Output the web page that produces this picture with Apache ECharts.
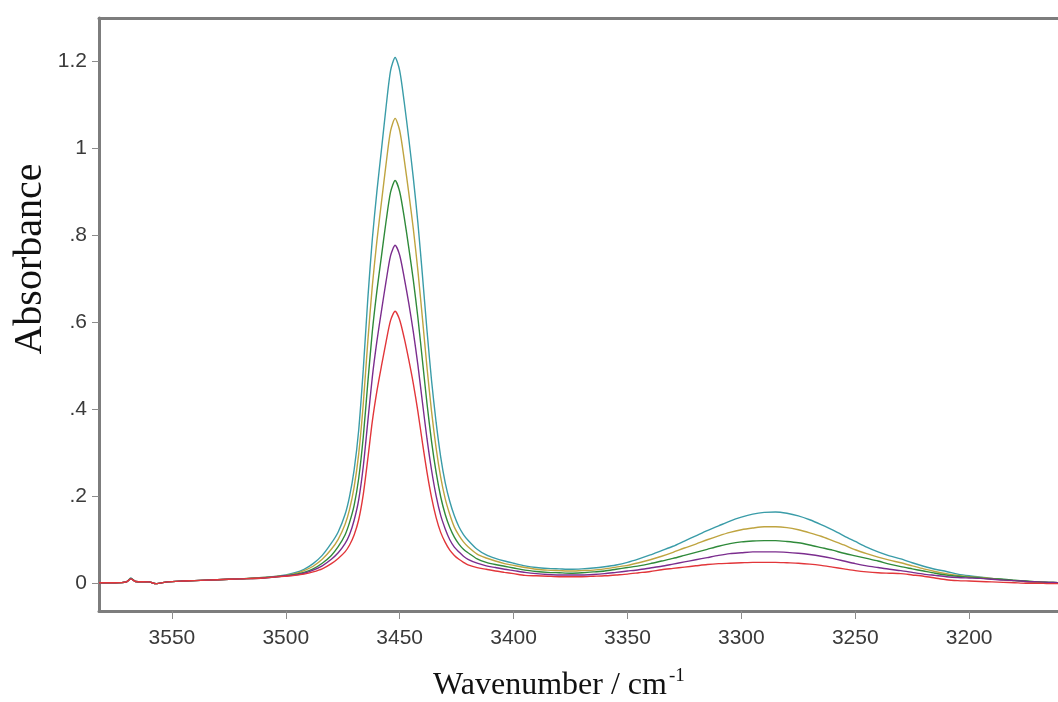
<!DOCTYPE html>
<html><head><meta charset="utf-8">
<script src="https://cdn.jsdelivr.net/npm/echarts@6/dist/echarts.min.js"></script>
<style>html,body{margin:0;padding:0;background:#fff}#c{width:1058px;height:702px}</style>
</head><body><div id="c"></div>
<script>
const wavenumbers = [
  3582, 3575, 3570, 3568, 3566, 3560, 3557, 3552, 3545, 3540,
  3530, 3520, 3510, 3500, 3496, 3492, 3488, 3484, 3480, 3477,
  3474, 3472, 3470, 3468, 3466, 3464, 3462, 3460, 3458, 3456,
  3454, 3452, 3450, 3448, 3446, 3444, 3442, 3440, 3438, 3436,
  3434, 3432, 3430, 3428, 3426, 3424, 3422, 3420, 3416, 3412,
  3408, 3404, 3400, 3395, 3390, 3385, 3380, 3375, 3370, 3365,
  3360, 3355, 3350, 3345, 3340, 3335, 3330, 3325, 3320, 3315,
  3310, 3305, 3300, 3295, 3290, 3285, 3280, 3275, 3270, 3265,
  3260, 3255, 3250, 3245, 3240, 3235, 3230, 3225, 3220, 3215,
  3210, 3205, 3200, 3195, 3190, 3185, 3180, 3175, 3170, 3165,
  3161
];
const tealValues = [
  0.000, 0.000, 0.002, 0.011, 0.003, 0.002, -0.002, 0.002, 0.004, 0.005,
  0.007, 0.009, 0.012, 0.018, 0.023, 0.031, 0.044, 0.063, 0.091, 0.117,
  0.157, 0.199, 0.260, 0.351, 0.490, 0.653, 0.792, 0.901, 0.997, 1.094,
  1.179, 1.209, 1.179, 1.106, 1.022, 0.931, 0.828, 0.707, 0.580, 0.465,
  0.369, 0.290, 0.230, 0.187, 0.154, 0.129, 0.111, 0.098, 0.077, 0.064,
  0.056, 0.050, 0.045, 0.039, 0.035, 0.033, 0.032, 0.031, 0.032, 0.034,
  0.037, 0.041, 0.047, 0.055, 0.064, 0.074, 0.084, 0.096, 0.108, 0.120,
  0.131, 0.142, 0.151, 0.158, 0.162, 0.163, 0.160, 0.154, 0.145, 0.134,
  0.122, 0.108, 0.095, 0.082, 0.071, 0.062, 0.055, 0.046, 0.038, 0.031,
  0.026, 0.020, 0.016, 0.013, 0.010, 0.007, 0.005, 0.003, 0.002, 0.001,
  0.000
];
const goldValues = [
  0.000, 0.000, 0.002, 0.010, 0.003, 0.002, -0.002, 0.002, 0.004, 0.005,
  0.007, 0.009, 0.012, 0.017, 0.021, 0.028, 0.038, 0.054, 0.077, 0.100,
  0.134, 0.169, 0.220, 0.296, 0.411, 0.555, 0.684, 0.787, 0.876, 0.963,
  1.040, 1.069, 1.041, 0.974, 0.897, 0.814, 0.718, 0.608, 0.495, 0.394,
  0.310, 0.243, 0.193, 0.157, 0.128, 0.109, 0.094, 0.083, 0.066, 0.057,
  0.050, 0.044, 0.040, 0.035, 0.031, 0.029, 0.028, 0.027, 0.028, 0.029,
  0.032, 0.036, 0.040, 0.046, 0.053, 0.061, 0.070, 0.080, 0.089, 0.099,
  0.108, 0.116, 0.122, 0.126, 0.129, 0.129, 0.127, 0.122, 0.115, 0.107,
  0.097, 0.087, 0.076, 0.067, 0.059, 0.052, 0.046, 0.039, 0.032, 0.026,
  0.021, 0.017, 0.014, 0.012, 0.010, 0.007, 0.005, 0.003, 0.002, 0.001,
  0.000
];
const greenValues = [
  0.000, 0.000, 0.002, 0.010, 0.003, 0.002, -0.002, 0.002, 0.004, 0.005,
  0.007, 0.009, 0.011, 0.016, 0.019, 0.024, 0.032, 0.045, 0.063, 0.083,
  0.110, 0.139, 0.178, 0.240, 0.335, 0.460, 0.579, 0.672, 0.752, 0.831,
  0.899, 0.926, 0.900, 0.841, 0.771, 0.696, 0.610, 0.511, 0.412, 0.325,
  0.254, 0.198, 0.157, 0.127, 0.105, 0.089, 0.077, 0.069, 0.055, 0.047,
  0.042, 0.038, 0.034, 0.029, 0.026, 0.024, 0.023, 0.022, 0.023, 0.025,
  0.027, 0.031, 0.035, 0.039, 0.044, 0.050, 0.056, 0.063, 0.070, 0.077,
  0.084, 0.090, 0.094, 0.096, 0.097, 0.097, 0.095, 0.092, 0.087, 0.081,
  0.075, 0.068, 0.062, 0.056, 0.050, 0.043, 0.037, 0.032, 0.027, 0.022,
  0.018, 0.015, 0.013, 0.011, 0.009, 0.008, 0.006, 0.004, 0.002, 0.001,
  0.000
];
const purpleValues = [
  0.000, 0.000, 0.002, 0.009, 0.003, 0.002, -0.002, 0.002, 0.004, 0.005,
  0.007, 0.009, 0.011, 0.016, 0.018, 0.022, 0.029, 0.039, 0.054, 0.069,
  0.090, 0.111, 0.144, 0.191, 0.267, 0.371, 0.474, 0.556, 0.626, 0.693,
  0.753, 0.777, 0.754, 0.702, 0.643, 0.577, 0.501, 0.415, 0.331, 0.259,
  0.200, 0.155, 0.124, 0.099, 0.082, 0.071, 0.061, 0.054, 0.045, 0.039,
  0.035, 0.031, 0.028, 0.024, 0.021, 0.019, 0.018, 0.018, 0.018, 0.019,
  0.021, 0.024, 0.027, 0.030, 0.034, 0.038, 0.043, 0.048, 0.053, 0.058,
  0.063, 0.067, 0.069, 0.071, 0.071, 0.071, 0.070, 0.068, 0.065, 0.061,
  0.056, 0.050, 0.044, 0.039, 0.035, 0.031, 0.028, 0.024, 0.020, 0.017,
  0.014, 0.012, 0.011, 0.010, 0.008, 0.006, 0.005, 0.003, 0.002, 0.001,
  0.000
];
const redValues = [
  0.000, 0.000, 0.002, 0.009, 0.003, 0.002, -0.002, 0.002, 0.004, 0.005,
  0.007, 0.009, 0.011, 0.015, 0.017, 0.020, 0.025, 0.032, 0.044, 0.056,
  0.071, 0.087, 0.110, 0.145, 0.203, 0.285, 0.372, 0.441, 0.499, 0.554,
  0.604, 0.625, 0.605, 0.563, 0.513, 0.458, 0.394, 0.322, 0.254, 0.196,
  0.150, 0.116, 0.093, 0.075, 0.063, 0.054, 0.047, 0.041, 0.035, 0.031,
  0.027, 0.024, 0.021, 0.017, 0.016, 0.015, 0.014, 0.014, 0.014, 0.015,
  0.016, 0.018, 0.020, 0.023, 0.026, 0.030, 0.033, 0.036, 0.039, 0.042,
  0.044, 0.045, 0.046, 0.047, 0.047, 0.047, 0.046, 0.045, 0.043, 0.040,
  0.036, 0.032, 0.028, 0.025, 0.023, 0.022, 0.021, 0.018, 0.015, 0.011,
  0.007, 0.005, 0.004, 0.003, 0.002, 0.001, 0.000, -0.001, -0.001, -0.002,
  -0.002
];
const xTickLabels = [3550, 3500, 3450, 3400, 3350, 3300, 3250, 3200];
const yTickLabels = [0, 0.2, 0.4, 0.6, 0.8, 1, 1.2];
const seriesList = [
  { name: 'teal', values: tealValues, color: '#3a9ca8' },
  { name: 'gold', values: goldValues, color: '#bfa440' },
  { name: 'green', values: greenValues, color: '#2f8a3a' },
  { name: 'purple', values: purpleValues, color: '#7b2d8e' },
  { name: 'red', values: redValues, color: '#e2363a' }
];

const chart = echarts.init(document.getElementById('c'), null, { renderer: 'canvas' });
const frameColor = '#7d7d7d';
chart.setOption({
  animation: false,
  backgroundColor: '#ffffff',
  grid: { left: 99, right: 0, top: 18, bottom: 91 },
  xAxis: [{
    type: 'value', inverse: true, min: 3161, max: 3582, position: 'bottom',
    axisLine: { show: true, onZero: false, lineStyle: { color: frameColor, width: 3 } },
    axisTick: { show: true, customValues: xTickLabels, length: 8, lineStyle: { color: '#8c8c8c', width: 1 } },
    axisLabel: { customValues: xTickLabels, margin: 17, fontSize: 21, color: '#3a3a3a', fontFamily: 'Liberation Sans',
      formatter: function (v) { return String(v); } },
    splitLine: { show: false }
  }, {
    type: 'value', inverse: true, min: 3161, max: 3582, position: 'top',
    axisLine: { show: true, onZero: false, lineStyle: { color: frameColor, width: 3 } },
    axisTick: { show: false }, axisLabel: { show: false }, splitLine: { show: false }
  }],
  yAxis: {
    type: 'value', min: -0.065, max: 1.3,
    axisLine: { show: true, onZero: false, lineStyle: { color: frameColor, width: 3 } },
    axisTick: { show: true, customValues: yTickLabels, length: 7, lineStyle: { color: '#8c8c8c', width: 1 } },
    axisLabel: {
      customValues: yTickLabels, margin: 12, fontSize: 21, color: '#3a3a3a', fontFamily: 'Liberation Sans',
      formatter: function (v) { const s = String(Math.round(v * 10) / 10); return v === 0 ? '0' : s.replace(/^0\./, '.'); }
    },
    splitLine: { show: false }
  },
  graphic: [
    { type: 'text', x: 30, y: 259, rotation: Math.PI / 2,
      style: { text: 'Absorbance', font: '40px "Liberation Serif"', fill: '#111', textAlign: 'center', textVerticalAlign: 'middle' } },
    { type: 'text', x: 550, y: 686,
      style: { text: 'Wavenumber / cm', font: '32px "Liberation Serif"', fill: '#111', textAlign: 'center', textVerticalAlign: 'middle' } },
    { type: 'text', x: 669, y: 676,
      style: { text: '-1', font: '19px "Liberation Serif"', fill: '#111', textAlign: 'left', textVerticalAlign: 'middle' } }
  ],
  series: seriesList.map(s => ({
    name: s.name, type: 'line', xAxisIndex: 0, showSymbol: false, smooth: 0.25,
    lineStyle: { color: s.color, width: 1.4 }, itemStyle: { color: s.color },
    data: wavenumbers.map((w, i) => [w, s.values[i]])
  }))
});
</script></body></html>
